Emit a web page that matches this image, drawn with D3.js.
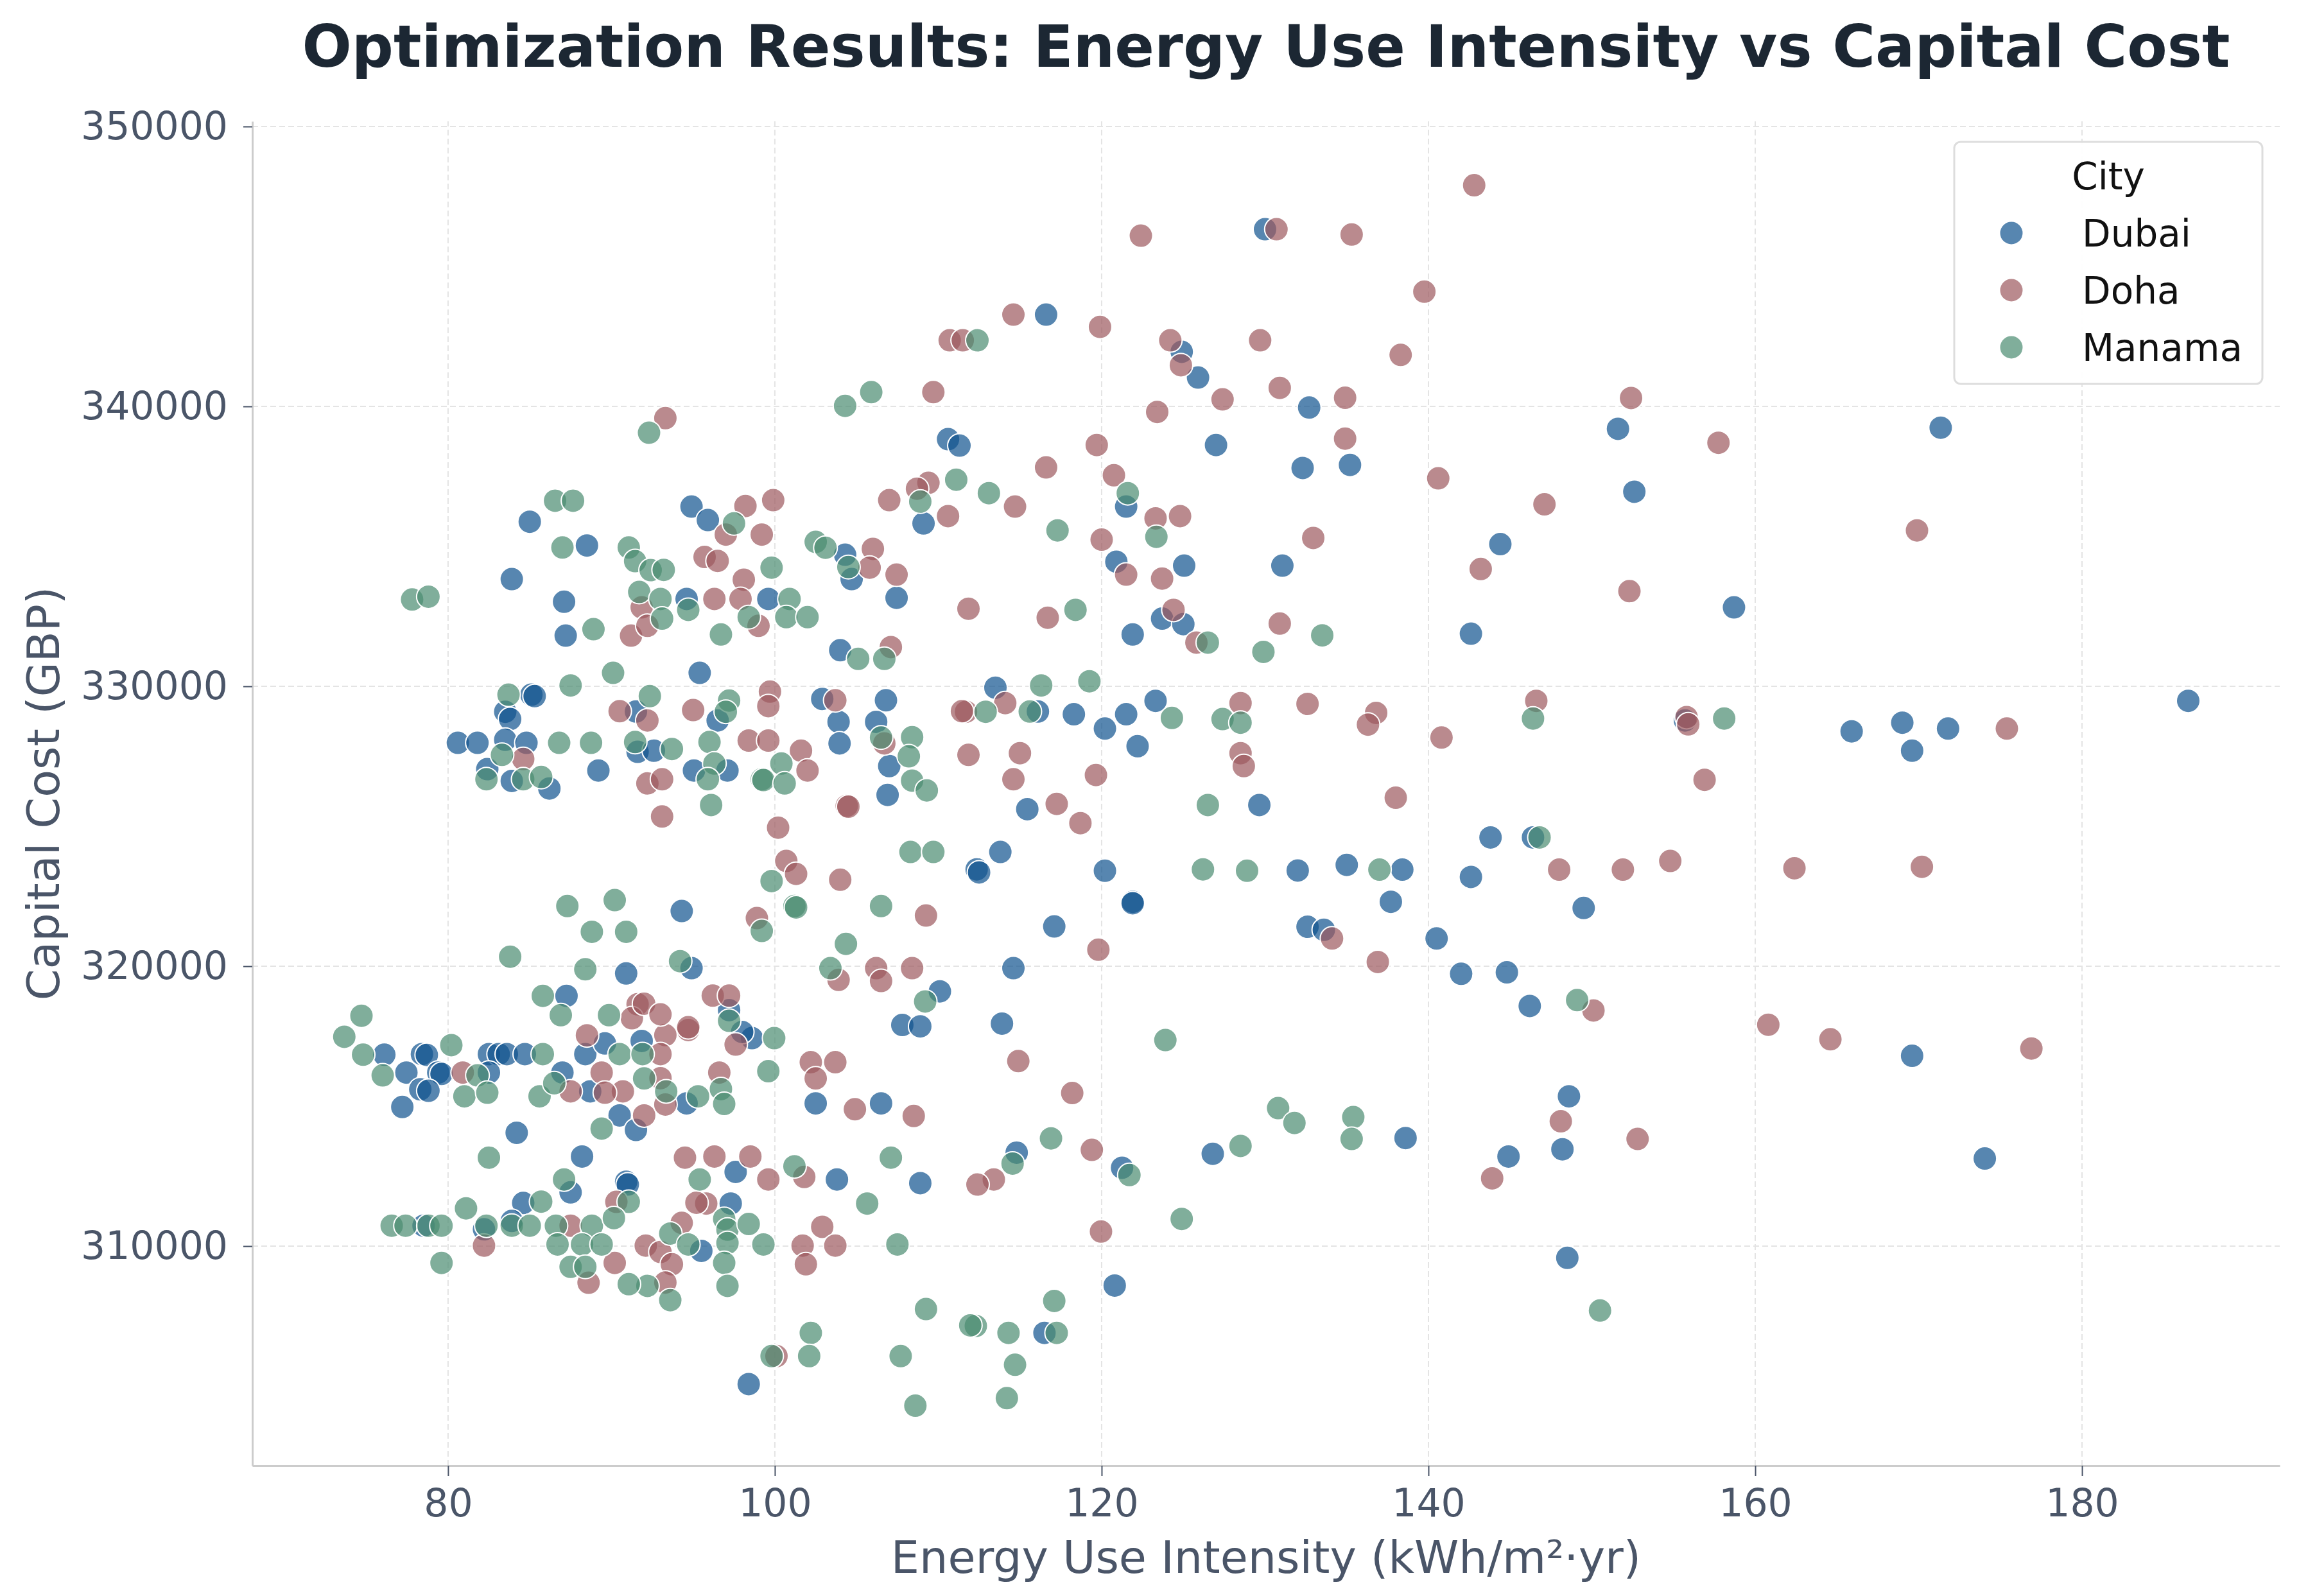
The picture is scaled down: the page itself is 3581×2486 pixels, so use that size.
<!DOCTYPE html>
<html>
<head>
<meta charset="utf-8">
<script src="https://cdn.jsdelivr.net/npm/d3@7"></script>
<style>
  body { margin: 0; background: #fff; }
  svg { display: block; font-family: "DejaVu Sans", sans-serif; }
</style>
</head>
<body>
<svg id="chart"></svg>
<script>
// categories and styles
const cities = ["Dubai", "Doha", "Manama"]
const cityColors = ["#10528e", "#9c585e", "#4a8b70"]
const xTicks = [80, 100, 120, 140, 160, 180]
const yTicks = [310000, 320000, 330000, 340000, 350000]

// [EUI kWh/m²·yr, capital cost GBP]
const dubaiPoints = [
  [130.0, 346330], [116.6, 343280], [124.9, 341950], [125.9, 341030], [127.0, 338620], [132.3, 337800],
  [121.5, 336420], [120.9, 334450], [125.05, 334310], [131.06, 334310], [123.7, 332420], [125.0, 332220],
  [121.9, 331850], [113.5, 329950], [116.1, 329100], [118.3, 329000], [120.2, 328490], [121.5, 329000],
  [123.3, 329480], [122.2, 327860], [115.45, 325610], [129.65, 325760], [113.8, 324080], [112.35, 323460],
  [112.5, 323350], [120.2, 323410], [132.0, 323420], [121.9, 322300], [121.9, 322250], [117.1, 321420],
  [114.6, 319930], [113.9, 317950], [114.8, 313340], [121.25, 312800], [126.8, 313300], [120.8, 308590],
  [116.5, 306900], [107.8, 317900], [108.9, 317850], [98.6, 317430], [98.0, 317650], [102.5, 315100],
  [106.5, 315100], [94.6, 315100], [97.6, 312650], [103.8, 312380], [108.9, 312250], [97.3, 311520],
  [95.5, 309830], [98.4, 305070], [76.1, 316840], [78.4, 316860], [78.7, 316830], [77.45, 316200],
  [79.4, 316200], [79.6, 316150], [78.3, 315600], [78.8, 315550], [77.2, 314970], [82.5, 316860],
  [83.1, 316860], [83.6, 316860], [84.7, 316860], [82.5, 316200], [87.0, 316200], [88.4, 316860],
  [89.6, 317240], [91.85, 317330], [88.7, 315530], [90.5, 314670], [91.5, 314150], [84.2, 314050],
  [88.2, 313200], [90.9, 312300], [91.0, 312200], [87.5, 311920], [84.6, 311540], [78.5, 310730],
  [82.2, 310600], [83.9, 310900], [87.1, 333020], [87.2, 331810], [85.1, 329700], [85.3, 329650],
  [83.5, 329090], [83.8, 328830], [80.6, 327980], [81.8, 327980], [83.5, 328090], [84.8, 327980],
  [82.4, 327040], [83.9, 326620], [86.2, 326350], [89.2, 326990], [91.5, 329100], [91.6, 327660],
  [90.9, 319740], [87.25, 318940], [85.0, 335880], [88.5, 335030], [83.9, 333830], [110.6, 338830],
  [111.3, 338600], [109.1, 335820], [104.3, 334700], [104.7, 333830], [107.45, 333160], [94.9, 336420],
  [95.9, 335940], [94.6, 333120], [99.6, 333120], [104.0, 331290], [95.4, 330480], [96.5, 328780],
  [102.9, 329550], [103.9, 328730], [103.96, 327960], [106.8, 329500], [106.2, 328730], [107.0, 327150],
  [106.9, 326120], [92.6, 327700], [95.05, 326990], [97.1, 326990], [94.3, 321970], [94.9, 319930],
  [110.1, 319100], [97.2, 318430], [132.7, 339960], [135.2, 337910], [132.6, 321410], [133.6, 321300],
  [135.0, 323620], [138.4, 323450], [137.7, 322300], [140.5, 320990], [142.6, 323190], [143.8, 324600],
  [146.4, 324600], [142.6, 331880], [144.4, 335080], [142.0, 319730], [144.8, 319780], [146.2, 318580],
  [148.6, 315350], [144.9, 313200], [148.2, 313460], [148.5, 309580], [149.5, 322080], [152.6, 336950],
  [151.6, 339200], [155.7, 328780], [158.7, 332820], [165.9, 328390], [169.0, 328700], [169.6, 327700],
  [171.8, 328490], [171.35, 339240], [169.6, 316800], [174.05, 313130], [186.5, 329480], [138.6, 313860]
]

const dohaPoints = [
  [142.8, 347900], [130.7, 346330], [122.4, 346100], [135.3, 346140], [139.75, 344100], [114.6, 343280],
  [119.9, 342840], [110.7, 342360], [111.5, 342360], [124.2, 342360], [124.85, 341470], [129.7, 342360],
  [138.3, 341840], [130.9, 340660], [127.4, 340250], [123.4, 339800], [119.7, 338620], [116.6, 337820],
  [120.75, 337540], [114.7, 336420], [123.3, 336000], [124.8, 336080], [120.0, 335240], [121.5, 333990],
  [123.7, 333850], [111.85, 332770], [116.7, 332450], [124.4, 332730], [125.8, 331560], [130.9, 332240],
  [111.7, 329090], [114.1, 329400], [128.5, 329400], [128.5, 327610], [128.7, 327150], [111.85, 327550],
  [115.0, 327610], [114.6, 326680], [119.65, 326830], [117.25, 325800], [118.7, 325110], [119.8, 320590],
  [114.9, 316610], [118.2, 315470], [113.4, 312380], [112.4, 312200], [119.4, 313440], [119.96, 310520],
  [97.6, 317200], [94.7, 317720], [93.3, 317540], [102.2, 316570], [103.7, 316570], [102.5, 315990],
  [104.9, 314890], [108.5, 314650], [96.6, 316200], [93.3, 315060], [92.0, 314670], [94.5, 313160],
  [96.3, 313200], [98.5, 313200], [99.6, 312380], [101.8, 312470], [95.8, 311520], [95.2, 311550],
  [94.3, 310830], [102.9, 310690], [101.7, 310020], [103.7, 310020], [101.9, 309350], [92.1, 310020],
  [93.0, 309790], [93.7, 309350], [93.3, 308700], [100.1, 306070], [93.0, 316860], [93.0, 316000],
  [80.9, 316200], [87.5, 315530], [88.5, 317530], [89.4, 316200], [90.7, 315530], [89.6, 315480],
  [90.3, 311580], [87.5, 310730], [82.2, 310020], [90.2, 309400], [88.6, 308690], [91.2, 331810],
  [84.6, 327400], [90.5, 329110], [92.2, 328780], [92.2, 326530], [91.6, 318640], [91.25, 318140],
  [93.3, 339580], [91.85, 332820], [109.7, 340510], [109.4, 337270], [108.7, 337060], [107.0, 336650],
  [110.6, 336080], [106.0, 334910], [105.8, 334240], [107.45, 333990], [98.2, 336440], [99.9, 336650],
  [97.0, 335420], [99.2, 335420], [95.7, 334620], [96.5, 334480], [98.1, 333810], [96.3, 333120],
  [97.9, 333120], [92.2, 332160], [99.0, 332160], [95.0, 329150], [99.7, 329810], [99.6, 329290],
  [103.7, 329500], [106.7, 327960], [111.45, 329110], [98.4, 328060], [99.6, 328060], [101.6, 327700],
  [102.0, 326990], [93.1, 326680], [93.1, 325350], [104.4, 325730], [104.5, 325700], [100.2, 324950],
  [100.7, 323760], [101.3, 323300], [104.0, 323090], [109.25, 321810], [98.9, 321720], [103.9, 319510],
  [106.2, 319930], [106.5, 319470], [108.4, 319930], [96.2, 318950], [97.2, 318950], [92.0, 318660],
  [93.0, 318280], [94.7, 317820], [107.1, 331400], [134.9, 340310], [134.9, 338850], [132.95, 335300],
  [132.6, 329370], [136.8, 329050], [136.3, 328630], [138.0, 326020], [136.9, 320150], [134.1, 320990],
  [140.6, 337430], [140.8, 328170], [143.2, 334190], [147.1, 336500], [146.6, 329480], [150.1, 318420],
  [148.1, 314460], [143.9, 312420], [152.8, 313830], [148.0, 323450], [151.9, 323450], [154.8, 323760],
  [152.3, 333400], [152.4, 340300], [155.8, 328900], [155.9, 328640], [156.9, 326660], [157.75, 338700],
  [160.8, 317910], [164.6, 317390], [162.4, 323500], [169.9, 335570], [170.2, 323550], [175.4, 328490],
  [176.9, 317060]
]

const manamaPoints = [
  [112.4, 342360], [121.6, 336900], [113.1, 336900], [123.35, 335340], [117.3, 335570], [118.4, 332730],
  [126.5, 331560], [129.9, 331230], [116.3, 330030], [119.25, 330180], [112.9, 329090], [115.6, 329100],
  [124.3, 328870], [127.4, 328830], [128.5, 328700], [126.5, 325760], [126.2, 323460], [128.9, 323410],
  [123.9, 317360], [116.9, 313850], [114.55, 312950], [121.7, 312540], [130.8, 314930], [131.8, 314400],
  [128.5, 313580], [124.9, 310970], [117.1, 308040], [112.3, 307150], [114.3, 306900], [117.25, 306900],
  [114.7, 305760], [114.2, 304570], [99.96, 317430], [99.6, 316250], [96.7, 315610], [96.9, 315080],
  [95.3, 315350], [93.35, 315530], [95.4, 312380], [101.2, 312850], [107.1, 313160], [105.65, 311520],
  [93.6, 310450], [96.9, 310970], [97.1, 310590], [97.1, 310110], [98.4, 310790], [94.7, 310060],
  [99.3, 310060], [107.5, 310060], [96.9, 309400], [97.1, 308580], [92.2, 308580], [93.6, 308070],
  [109.25, 307750], [111.96, 307170], [102.2, 306900], [99.8, 306070], [102.1, 306070], [107.7, 306070],
  [108.6, 304300], [73.65, 317480], [74.8, 316840], [76.0, 316100], [80.2, 317180], [85.8, 316860],
  [81.8, 316100], [81.0, 315350], [82.4, 315480], [85.6, 315350], [86.5, 315820], [90.5, 316860],
  [91.9, 316860], [92.0, 315990], [89.4, 314200], [82.5, 313160], [87.1, 312380], [81.1, 311350],
  [85.7, 311590], [91.06, 311580], [76.55, 310730], [77.4, 310730], [78.8, 310730], [79.6, 310730],
  [82.35, 310730], [83.9, 310730], [85.0, 310730], [86.6, 310730], [88.8, 310730], [90.15, 311000],
  [86.7, 310060], [88.2, 310060], [89.4, 310060], [87.5, 309260], [88.4, 309260], [91.06, 308640],
  [79.6, 309400], [77.8, 333100], [78.8, 333200], [88.9, 332040], [90.1, 330480], [87.5, 330030],
  [83.7, 329700], [83.3, 327550], [82.35, 326680], [84.6, 326680], [85.7, 326760], [86.8, 327980],
  [88.75, 327980], [91.45, 328010], [87.3, 322150], [90.2, 322360], [88.8, 321230], [90.9, 321230],
  [83.8, 320340], [88.4, 319890], [85.8, 318940], [86.9, 318250], [89.85, 318250], [74.7, 318230],
  [92.3, 339060], [86.55, 336630], [87.65, 336630], [87.0, 334960], [91.06, 334960], [91.45, 334470],
  [91.7, 333370], [92.4, 334150], [104.3, 340020], [105.9, 340510], [111.1, 337380], [108.9, 336600],
  [102.5, 335160], [103.1, 334950], [104.5, 334260], [97.5, 335820], [93.2, 334160], [99.8, 334240],
  [93.0, 333120], [100.9, 333120], [94.7, 332730], [93.1, 332420], [98.4, 332470], [100.7, 332470],
  [102.0, 332470], [96.7, 331850], [105.1, 330980], [106.7, 330980], [92.35, 329650], [97.2, 329490],
  [97.0, 329090], [106.5, 328170], [108.4, 328180], [108.2, 327500], [108.4, 326630], [109.3, 326280],
  [100.4, 327240], [99.2, 326680], [99.3, 326650], [100.6, 326530], [96.0, 328010], [96.3, 327240],
  [95.9, 326680], [96.1, 325760], [93.7, 327760], [108.3, 324080], [109.7, 324080], [99.8, 323040],
  [101.2, 322150], [101.3, 322100], [106.5, 322150], [99.2, 321260], [104.35, 320800], [94.2, 320180],
  [103.4, 319930], [109.2, 318740], [97.2, 318050], [133.5, 331820], [137.0, 323450], [146.8, 324600],
  [146.4, 328850], [149.1, 318790], [150.5, 307700], [158.1, 328850], [135.4, 314610], [135.3, 313830]
]

const seriesPoints = [dubaiPoints, dohaPoints, manamaPoints]

const drawChart = () => {
    const width = 3581
    const height = 2486
    const margin = { left: 393, right: 30, top: 189, bottom: 203 }
    const textColor = "#4a5568"

    const svg = d3.select('#chart')
        .attr('width', width)
        .attr('height', height)

    const x = d3.scaleLinear()
        .domain([68.02, 192.1])
        .range([margin.left, width - margin.right])

    const y = d3.scaleLinear()
        .domain([302156, 350184])
        .range([height - margin.bottom, margin.top])

    // dashed grid
    svg.append('g')
        .selectAll('line.vgrid')
        .data(xTicks)
        .join('line')
        .attr('x1', d => x(d)).attr('x2', d => x(d))
        .attr('y1', y.range()[0]).attr('y2', y.range()[1])
        .attr('stroke', '#e4e4e4')
        .attr('stroke-width', 2)
        .attr('stroke-dasharray', '9,5')

    svg.append('g')
        .selectAll('line.hgrid')
        .data(yTicks)
        .join('line')
        .attr('x1', x.range()[0]).attr('x2', x.range()[1])
        .attr('y1', d => y(d)).attr('y2', d => y(d))
        .attr('stroke', '#e4e4e4')
        .attr('stroke-width', 2)
        .attr('stroke-dasharray', '9,5')

    // axes
    const xAxis = svg.append('g')
        .attr('transform', `translate(0,${y.range()[0]})`)
        .call(d3.axisBottom(x).tickValues(xTicks).tickSize(16).tickSizeOuter(0).tickPadding(20))
    const yAxis = svg.append('g')
        .attr('transform', `translate(${x.range()[0]},0)`)
        .call(d3.axisLeft(y).tickValues(yTicks).tickSize(14).tickSizeOuter(0)
            .tickFormat(d3.format('d')).tickPadding(24))

    ;[xAxis, yAxis].forEach(ax => {
        ax.select('.domain').attr('stroke', '#cccccc').attr('stroke-width', 3)
        ax.selectAll('.tick line').attr('stroke', textColor).attr('stroke-width', 2)
        ax.selectAll('.tick text')
            .attr('fill', textColor)
            .attr('font-size', 60)
            .attr('font-family', 'DejaVu Sans')
    })

    // points
    seriesPoints.forEach((pts, i) => {
        svg.append('g')
            .selectAll('circle')
            .data(pts)
            .join('circle')
            .attr('cx', d => x(d[0]))
            .attr('cy', d => y(d[1]))
            .attr('r', 18.5)
            .attr('fill', cityColors[i])
            .attr('fill-opacity', 0.7)
            .attr('stroke', '#ffffff')
            .attr('stroke-width', 2)
    })

    // title and labels
    svg.append('text')
        .attr('x', (x.range()[0] + x.range()[1]) / 2)
        .attr('y', 104)
        .attr('text-anchor', 'middle')
        .attr('font-size', 91)
        .attr('font-weight', 'bold')
        .attr('fill', '#1c2733')
        .text('Optimization Results: Energy Use Intensity vs Capital Cost')

    svg.append('text')
        .attr('x', (x.range()[0] + x.range()[1]) / 2)
        .attr('y', 2450)
        .attr('text-anchor', 'middle')
        .attr('font-size', 70)
        .attr('fill', textColor)
        .text('Energy Use Intensity (kWh/m²·yr)')

    svg.append('text')
        .attr('transform', `translate(92,${(y.range()[0] + y.range()[1]) / 2}) rotate(-90)`)
        .attr('text-anchor', 'middle')
        .attr('font-size', 70)
        .attr('fill', textColor)
        .text('Capital Cost (GBP)')

    // legend
    const legend = svg.append('g')
    legend.append('rect')
        .attr('x', 3044).attr('y', 221)
        .attr('width', 480).attr('height', 377)
        .attr('rx', 10)
        .attr('fill', '#ffffff')
        .attr('fill-opacity', 0.9)
        .attr('stroke', '#dddddd')
        .attr('stroke-width', 3)
    legend.append('text')
        .attr('x', 3284).attr('y', 295)
        .attr('text-anchor', 'middle')
        .attr('font-size', 58)
        .attr('fill', '#111111')
        .text('City')
    const entries = legend.selectAll('g.entry')
        .data(cities)
        .join('g')
        .attr('transform', (d, i) => `translate(0,${363 + i * 89})`)
    entries.append('circle')
        .attr('cx', 3133).attr('cy', 0).attr('r', 18.5)
        .attr('fill', (d, i) => cityColors[i])
        .attr('fill-opacity', 0.7)
        .attr('stroke', '#ffffff')
        .attr('stroke-width', 2)
    entries.append('text')
        .attr('x', 3243).attr('y', 21)
        .attr('font-size', 58)
        .attr('fill', '#111111')
        .text(d => d)
}

drawChart()
</script>
</body>
</html>
